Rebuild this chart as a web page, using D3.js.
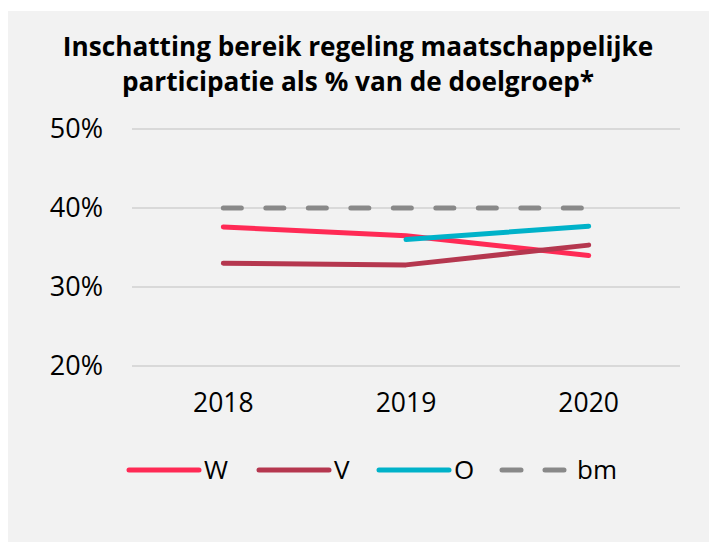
<!DOCTYPE html>
<html>
<head>
<meta charset="utf-8">
<title>Inschatting bereik</title>
<script src="https://cdn.jsdelivr.net/npm/d3@7"></script>
<style>
  body { margin: 0; background: #fff; font-family: "Open Sans", sans-serif; }
  text { fill: #000; }
  .grid line { stroke: #d9d9d9; stroke-width: 2px; }
  .serie { fill: none; stroke-width: 5px; stroke-linecap: round; stroke-linejoin: round; }
</style>
</head>
<body>
<script>
// data
var years = ["2018", "2019", "2020"];
var W  = [37.6, 36.5, 34.0];
var V  = [33.0, 32.8, 35.3];
var O  = [null, 36.0, 37.7];
var bm = [40, 40, 40];
var yTicks = [20, 30, 40, 50];

var series = [
  {name: "W",  values: W,  color: "#ff2a55"},
  {name: "V",  values: V,  color: "#b5374f"},
  {name: "O",  values: O,  color: "#00b2c9"},
  {name: "bm", values: bm, color: "#898989", dash: "18,24.5"}
];

var width = 709, height = 542;

var svg = d3.select("body").append("svg")
    .attr("width", width)
    .attr("height", height);

// grey panel
svg.append("rect")
    .attr("x", 8).attr("y", 11)
    .attr("width", width - 8).attr("height", height - 11)
    .attr("fill", "#f2f2f2");

// title
var title = svg.append("text")
    .attr("text-anchor", "middle")
    .attr("font-weight", "bold")
    .attr("font-size", 26.2);
title.append("tspan").attr("x", 358).attr("y", 56).text("Inschatting bereik regeling maatschappelijke");
title.append("tspan").attr("x", 358).attr("y", 91).text("participatie als % van de doelgroep*");

var x = d3.scaleBand().domain(years).range([132, 680]);
var y = d3.scaleLinear().domain([20, 50]).range([366, 129]);

// gridlines
svg.append("g").attr("class", "grid")
  .selectAll("line").data(yTicks).enter().append("line")
    .attr("x1", 132).attr("x2", 680)
    .attr("y1", function(d) { return y(d); })
    .attr("y2", function(d) { return y(d); });

// y axis labels
var yAxis = svg.append("g")
    .attr("transform", "translate(103,0)")
    .call(d3.axisLeft(y).tickValues(yTicks).tickSize(0).tickPadding(0)
      .tickFormat(function(d) { return d + "%"; }));
yAxis.select(".domain").remove();
yAxis.selectAll("text").attr("font-size", 27).attr("font-family", "Open Sans").attr("fill", "#000");

// x axis labels
var xAxis = svg.append("g")
    .attr("transform", "translate(0,393)")
    .call(d3.axisBottom(x).tickSize(0).tickPadding(0));
xAxis.select(".domain").remove();
xAxis.selectAll("text").attr("font-size", 26.5).attr("font-family", "Open Sans").attr("fill", "#000");

// lines
var line = d3.line()
    .defined(function(d) { return d != null; })
    .x(function(d, i) { return x(years[i]) + x.bandwidth() / 2; })
    .y(function(d) { return y(d); });

// bm first so it sits behind
[3, 0, 1, 2].forEach(function(k) {
  var s = series[k];
  svg.append("path")
      .attr("class", "serie")
      .attr("d", line(s.values))
      .attr("stroke", s.color)
      .attr("stroke-dasharray", s.dash || null);
});

// legend
var legendX = [129, 259, 379, 502];
var legend = svg.selectAll(".legend").data(series).enter().append("g")
    .attr("transform", function(d, i) { return "translate(" + legendX[i] + ",470)"; });
legend.append("line")
    .attr("class", "serie")
    .attr("x1", 0).attr("x2", function(d) { return d.dash ? 64 : 70; })
    .attr("y1", 0).attr("y2", 0)
    .attr("stroke", function(d) { return d.color; })
    .attr("stroke-dasharray", function(d) { return d.dash ? "19,24" : null; });
legend.append("text")
    .attr("x", 75)
    .attr("dy", "0.35em")
    .attr("font-size", 26)
    .text(function(d) { return d.name; });
</script>
</body>
</html>
